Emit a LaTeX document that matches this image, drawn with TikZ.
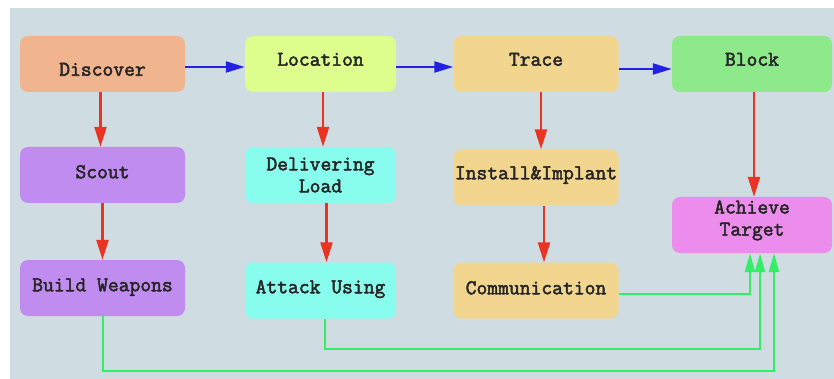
\documentclass[tikz,border=0pt]{standalone}
\usepackage{fontspec}
\newfontfamily\boxfont[FakeBold=2.4]{Latin Modern Mono}
\usetikzlibrary{arrows.meta}
\definecolor{bgc}{HTML}{CFDCE2}
\definecolor{cdisc}{HTML}{F0B48E}
\definecolor{cloc}{HTML}{DDFD8C}
\definecolor{ctrace}{HTML}{F2D690}
\definecolor{cblock}{HTML}{8EE98A}
\definecolor{cpurple}{HTML}{C08CF0}
\definecolor{caqua}{HTML}{88FDEE}
\definecolor{cpink}{HTML}{EC8CEC}
\definecolor{cblue}{HTML}{2222E0}
\definecolor{cred}{HTML}{EA3322}
\definecolor{cgreen}{HTML}{33EE66}
\tikzset{
  box/.style={rectangle, rounded corners=8pt, minimum width=165pt, minimum height=56pt,
    inner sep=1pt, align=center, font=\boxfont\fontsize{21}{22}\selectfont, text=black!85},
  tpos/.style={text height=14pt, text depth=#1},
  barrow/.style={draw=cblue, line width=2.2pt, -{Triangle[length=19pt,width=11pt]}},
  rarrow/.style={draw=cred, line width=2.4pt, -{Triangle[length=20pt,width=12pt]}},
  garrow/.style={draw=cgreen, line width=2.2pt, -{Triangle[length=19pt,width=10pt]}}
}
\begin{document}
\begin{tikzpicture}[x=1pt,y=-1pt]
\useasboundingbox (0,0) rectangle (834,379);
\fill[white] (0,0) rectangle (834,379);
\fill[bgc] (10,8) rectangle (834,379);
% row 1
\node[box, fill=cdisc, minimum width=165pt, text height=23.5pt, text depth=0pt] (disc) at (102.5,64) {Discover};
\node[box, fill=cloc, minimum width=151pt, tpos=10.5pt] (loc) at (320.5,64) {Location};
\node[box, fill=ctrace, minimum width=165pt, tpos=10.5pt] (trace) at (536,64) {Trace};
\node[box, fill=cblock, minimum width=160pt, tpos=10.5pt] (block) at (752,64) {Block};
% row 2
\node[box, fill=cpurple, minimum width=165pt, tpos=7.5pt] (scout) at (102.5,175) {Scout};
\node[box, fill=caqua, minimum width=151pt] (deliv) at (320.5,175) {Delivering\\Load};
\node[box, fill=ctrace, minimum width=165pt, tpos=10.5pt] (inst) at (536,177.5) {Install\&Implant};
\node[box, fill=cpink, minimum width=160pt] (target) at (752,225) {Achieve\\Target\rule[-14pt]{0pt}{1pt}};
% row 3
\node[box, fill=cpurple, minimum width=165pt, tpos=7.5pt] (build) at (102.5,288) {Build Weapons};
\node[box, fill=caqua, minimum width=151pt, tpos=8.5pt] (attack) at (320.5,290.5) {Attack Using};
\node[box, fill=ctrace, minimum width=165pt, tpos=6.5pt] (comm) at (536,290.5) {Communication};
% blue arrows
\draw[barrow] ([yshift=-3pt]disc.east) -- ([yshift=-3pt]loc.west);
\draw[barrow] ([yshift=-3pt]loc.east) -- ([yshift=-3pt]trace.west);
\draw[barrow] ([yshift=-5pt]trace.east) -- ([yshift=-5pt]block.west);
% red arrows
\draw[rarrow] ([xshift=-2pt]disc.south) -- ([xshift=-2pt]scout.north);
\draw[rarrow] ([xshift=2.5pt]loc.south) -- ([xshift=2.5pt]deliv.north);
\draw[rarrow] ([xshift=5pt]trace.south) -- ([xshift=5pt]inst.north);
\draw[rarrow] ([xshift=2pt]block.south) -- ([xshift=2pt]target.north);
\draw[rarrow] (scout.south) -- (build.north);
\draw[rarrow] ([xshift=6pt]deliv.south) -- ([xshift=6pt]attack.north);
\draw[rarrow] ([xshift=8pt]inst.south) -- ([xshift=8pt]comm.north);
% green arrows
\draw[garrow] ([yshift=-3.5pt]comm.east) -| ([xshift=-2pt]target.south);
\draw[garrow] ([xshift=4.5pt]attack.south) |- ++(0,30) -| ([xshift=8pt]target.south);
\draw[garrow] ([xshift=0.5pt]build.south) |- ++(0,55) -| ([xshift=22pt]target.south);
\end{tikzpicture}
\end{document}
